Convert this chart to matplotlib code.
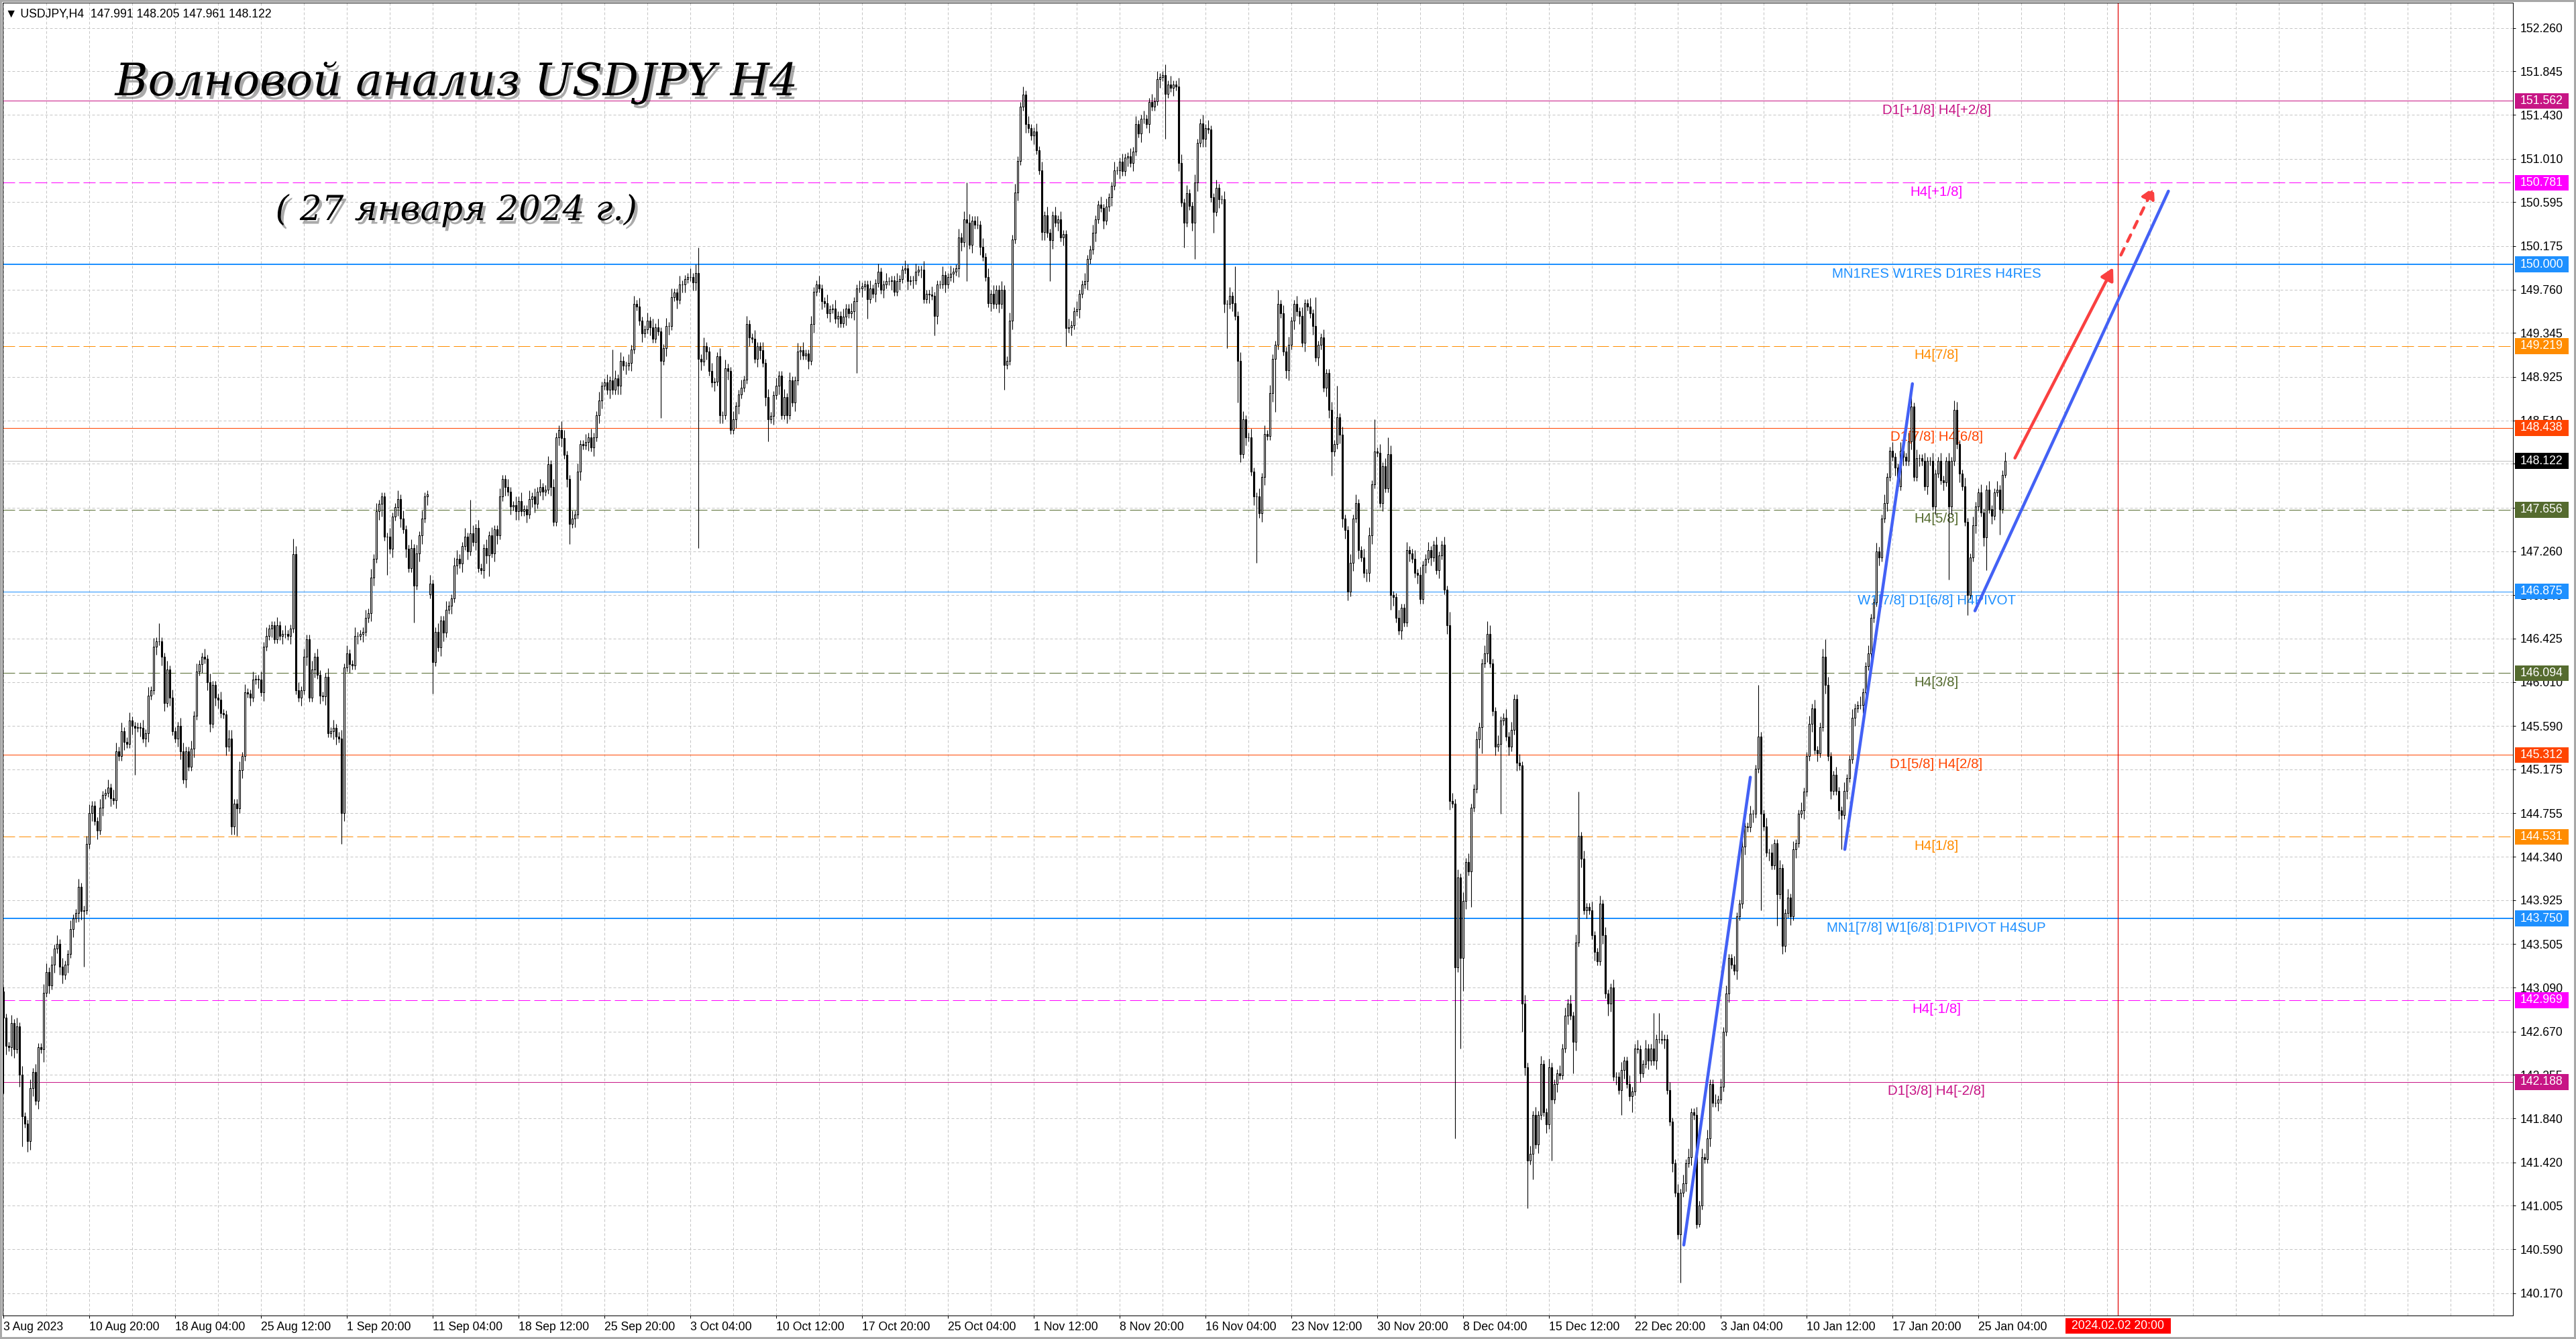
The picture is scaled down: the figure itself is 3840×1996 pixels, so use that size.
import numpy as np
import matplotlib
matplotlib.use("Agg")
import matplotlib.pyplot as plt
import matplotlib.patheffects as pe
import matplotlib.transforms as mtransforms
from matplotlib.patches import Rectangle
from matplotlib.ticker import MultipleLocator

plt.rcParams['font.family'] = ['Liberation Sans', 'DejaVu Sans']

# ---------------- data ----------------
# USDJPY H4 closes, one value per bar, 3 Aug 2023 .. 26 Jan 2024
closes_1 = [  # 3 Aug - 1 Sep
    142.80, 142.53, 142.52, 142.75, 142.50, 142.72, 142.26, 141.86, 141.79, 141.62,
    142.13, 142.28, 142.01, 142.52, 142.50, 143.04, 143.24, 143.11, 143.31, 143.46,
    143.51, 143.29, 143.21, 143.31, 143.41, 143.65, 143.75, 143.80, 144.05, 143.82,
    143.83, 144.46, 144.76, 144.83, 144.68, 144.59, 144.81, 144.93, 144.95, 145.00,
    144.90, 144.88, 145.35, 145.30, 145.54, 145.44, 145.42, 145.64, 145.59, 145.57,
    145.58, 145.57, 145.47, 145.52, 145.88, 145.93, 146.35, 146.40, 146.40, 146.25,
    145.81, 146.13, 145.86, 145.54, 145.47, 145.59, 145.35, 145.08, 145.35, 145.20,
    145.37, 145.69, 146.11, 146.18, 146.25, 146.23, 146.01, 145.61, 145.98, 145.86,
    145.84, 145.71, 145.70, 145.39, 145.47, 144.63, 144.85, 144.80, 145.17, 145.30,
    145.91, 145.90, 145.86, 146.03, 146.04, 146.03, 145.91, 146.35, 146.45, 146.52,
    146.55, 146.42, 146.55, 146.45, 146.47, 146.47, 146.45, 146.52, 147.23, 145.93,
    145.86, 145.93, 146.25, 146.42, 145.86, 146.13, 146.25, 146.08, 145.88, 145.87,
    146.06, 145.52, 145.54, 145.57, 145.49, 145.47, 144.76, 146.15, 146.28, 146.18,
    146.17, 146.45, 146.45, 146.47,
]
closes_2 = [  # 1 Sep - 5 Oct
    146.49, 146.62, 146.67, 147.01, 147.19, 147.64, 147.71, 147.78, 147.40, 147.40,
    147.28, 147.59, 147.68, 147.76, 147.57, 147.47, 147.28, 147.10, 147.29, 146.93,
    147.24, 147.41, 147.57, 147.78, 147.80, 146.95, 146.20, 146.49, 146.34, 146.60,
    146.48, 146.70, 146.74, 146.81, 147.12, 147.19, 147.14, 147.31, 147.40, 147.26,
    147.43, 147.35, 147.48, 147.10, 147.08, 147.29, 147.22, 147.41, 147.24, 147.47,
    147.41, 147.78, 147.95, 147.87, 147.83, 147.69, 147.70, 147.64, 147.74, 147.64,
    147.66, 147.61, 147.76, 147.78, 147.71, 147.83, 147.87, 147.83, 147.85, 148.09,
    147.87, 147.54, 148.35, 148.42, 148.34, 148.18, 147.95, 147.52, 147.57, 147.61,
    148.02, 148.28, 148.27, 148.30, 148.35, 148.25, 148.35, 148.56, 148.70, 148.84,
    148.87, 148.80, 148.89, 148.80, 148.91, 148.84, 149.08, 149.03, 149.03, 149.06,
    149.19, 149.62, 149.60, 149.46, 149.34, 149.38, 149.46, 149.40, 149.29, 149.40,
    149.36, 149.08, 149.20, 149.41, 149.41, 149.69, 149.73, 149.66, 149.81, 149.81,
    149.86, 149.88, 149.88, 149.83, 149.92, 149.10, 149.07, 149.22, 149.17, 148.98,
    148.87, 148.88, 149.12, 148.56, 148.56, 149.01, 148.98, 148.42, 148.52, 148.65,
]
closes_3 = [  # 5 Oct - 31 Oct
    148.76, 148.82, 148.90, 149.43, 149.30, 149.29, 149.10, 149.22, 149.18, 149.06,
    148.73, 148.52, 148.55, 148.75, 148.84, 148.94, 148.56, 148.73, 148.56, 148.89,
    148.68, 148.89, 149.17, 149.18, 149.13, 149.15, 149.08, 149.43, 149.74, 149.81,
    149.77, 149.65, 149.63, 149.53, 149.57, 149.58, 149.48, 149.51, 149.44, 149.50,
    149.58, 149.53, 149.55, 149.65, 149.77, 149.77, 149.79, 149.81, 149.67, 149.77,
    149.72, 149.82, 149.93, 149.76, 149.81, 149.84, 149.84, 149.85, 149.74, 149.84,
    149.86, 149.95, 149.96, 149.84, 149.85, 149.85, 149.93, 149.95, 149.95, 149.67,
    149.72, 149.71, 149.70, 149.51, 149.81, 149.81, 149.90, 149.81, 149.88, 149.91,
    149.93, 149.96, 150.26, 150.21, 150.43, 150.40, 150.19, 150.42, 150.38, 150.38,
    150.17, 150.07, 149.88, 149.63, 149.72, 149.62, 149.76, 149.62, 149.76, 149.04,
    149.08, 149.46, 150.24, 150.69, 150.99, 151.51, 151.62, 151.34, 151.30, 151.23,
    151.27, 151.09, 150.90, 150.31, 150.47, 150.30, 150.23, 150.47, 150.40, 150.43,
    150.26, 150.29, 149.39, 149.40, 149.42, 149.55, 149.57, 149.72, 149.81, 149.84,
]
closes_4 = [  # 1 Nov - 6 Dec
    150.05, 150.14, 150.30, 150.43, 150.57, 150.54, 150.42, 150.55, 150.64, 150.75,
    150.90, 150.90, 150.98, 150.89, 151.02, 151.03, 150.97, 151.08, 151.34, 151.25,
    151.39, 151.39, 151.34, 151.55, 151.51, 151.56, 151.77, 151.79, 151.81, 151.63,
    151.72, 151.69, 151.72, 151.70, 150.97, 150.59, 150.40, 150.68, 150.56, 150.40,
    150.78, 151.16, 151.35, 151.20, 151.30, 151.29, 150.64, 150.50, 150.73, 150.62,
    150.62, 149.62, 149.62, 149.70, 149.63, 149.51, 149.08, 148.19, 148.52, 148.35,
    148.35, 148.02, 147.78, 147.78, 147.62, 147.97, 148.38, 148.36, 148.77, 149.10,
    149.23, 149.62, 149.53, 149.17, 148.99, 149.23, 149.46, 149.62, 149.55, 149.51,
    149.25, 149.63, 149.60, 149.53, 149.41, 149.11, 149.23, 149.30, 148.82, 148.96,
    148.61, 148.21, 148.28, 148.54, 148.37, 147.57, 147.46, 146.87, 147.15, 147.57,
    147.72, 147.27, 147.20, 147.05, 147.05, 147.41, 147.90, 148.21, 148.20, 147.72,
    148.07, 147.86, 148.19, 146.84, 146.82, 146.62, 146.50, 146.72, 146.58, 147.27,
    147.24, 147.19, 147.05, 147.03, 146.80, 147.13, 147.19, 147.27, 147.20, 147.32,
    147.08, 147.22, 147.32, 146.89, 146.55,
]
closes_5 = [  # 7 Dec - 9 Jan
    144.87, 144.85, 143.28, 144.14, 143.37, 143.92, 144.29, 144.20, 144.81, 144.99,
    145.46, 145.58, 146.19, 146.28, 146.47, 146.19, 145.73, 145.39, 145.42, 145.64,
    145.67, 145.49, 145.39, 145.55, 145.85, 145.24, 145.21, 142.94, 142.33, 141.44,
    141.50, 141.87, 141.59, 141.87, 142.36, 141.90, 141.78, 142.33, 142.02, 142.17,
    142.27, 142.25, 142.51, 142.82, 142.94, 142.82, 142.57, 143.52, 144.54, 144.32,
    143.83, 143.86, 143.83, 143.59, 143.43, 143.34, 143.89, 143.59, 143.03, 142.94,
    143.09, 142.24, 142.24, 142.11, 142.30, 142.39, 142.17, 142.05, 142.10, 142.51,
    142.50, 142.27, 142.36, 142.51, 142.39, 142.51, 142.39, 142.60, 142.60, 142.59,
    142.60, 142.11, 141.81, 141.41, 141.13, 140.73, 141.13, 141.22, 141.41, 141.47,
    141.90, 141.87, 140.83, 141.01, 141.47, 141.45, 141.65, 142.17, 141.99, 141.99,
    142.02, 142.14, 142.67, 143.03, 143.37, 143.31, 143.25, 143.77, 143.89, 144.44,
    144.63, 144.62, 144.75, 144.75, 145.18, 145.49, 144.75, 144.63, 144.38, 144.38,
    144.26, 144.47, 143.98, 144.23, 143.49, 143.80, 143.95, 143.77, 144.41, 144.47,
    144.75, 144.78, 144.96, 145.30, 145.61, 145.76, 145.36, 145.33, 145.58, 146.25,
]
closes_6 = [  # 9 Jan - 26 Jan
    145.98, 145.30, 144.97, 145.12, 144.97, 144.78, 144.74, 144.97, 145.09, 145.27,
    145.67, 145.76, 145.79, 145.79, 145.91, 146.16, 146.28, 146.62, 146.77, 147.26,
    147.20, 147.57, 147.72, 147.97, 148.22, 148.16, 148.06, 147.88, 148.22, 148.16,
    148.12, 148.31, 148.64, 147.97, 148.15, 148.15, 148.12, 147.88, 148.12, 148.12,
    147.69, 148.00, 148.12, 147.94, 147.92, 148.12, 147.69, 148.12, 148.61, 148.28,
    148.00, 147.88, 147.54, 146.84, 147.20, 147.51, 147.69, 147.82, 147.63, 147.39,
    147.85, 147.66, 147.60, 147.82, 147.85, 147.66, 147.99, 148.122,
]

# wicks per bar: two digits "up down", in steps of WICK_UNIT
WICK_UNIT = 0.04
wicks_1 = """
21 12 11 22 12 21 13 21 11 12  22 12 21 12 11 23 21 12 21 12
21 12 22 11 12 21 12 11 22 12  12 21 21 12 11 12 21 12 11 21
12 21 22 11 21 12 11 21 12 11  11 12 21 12 22 11 21 12 31 12
12 21 12 21 11 12 22 21 12 11  21 12 21 11 12 21 12 22 11 12
12 21 11 12 21 22 12 11 21 12  21 11 12 21 11 12 21 12 21 11
12 11 21 11 12 21 11 12 11 21  21 12 21 12 11 21 12 21 12 11
12 21 11 22 12 11 22 12 21 12  11 21 12 11
"""
wicks_2 = """
12 21 11 22 12 21 12 13 11 12  21 12 11 22 12 21 12 11 21 12
21 12 22 11 12 21 12 11 21 12  12 21 11 12 21 22 11 12 21 12
11 21 12 21 11 12 22 11 21 12  12 21 11 12 21 12 11 22 12 21
11 12 21 12 22 11 21 12 11 21  12 21 11 12 22 21 12 11 21 12
21 12 11 21 12 21 12 11 22 12  11 21 12 11 21 12 22 11 12 21
12 21 11 21 12 11 21 12 21 11  21 12 11 22 12 21 11 12 21 12
12 11 21 12 22 11 12 21 12 11  21 12 11 22 12 21 12 11 21 12
"""
wicks_3 = """
12 21 11 21 12 11 21 12 12 21  12 21 11 12 21 12 11 21 12 21
11 12 21 12 21 11 12 21 12 11  21 12 11 21 12 11 21 12 11 21
12 11 21 12 11 21 12 11 12 21  11 12 21 11 12 21 11 12 11 21
12 11 21 12 11 12 21 11 12 21  11 12 21 11 12 11 21 12 11 21
12 11 22 12 21 11 21 12 11 21  12 21 11 21 12 21 11 12 21 12
11 21 12 21 12 11 21 12 21 11  12 21 11 22 12 21 11 12 21 12
21 12 11 21 12 11 21 12 11 21
"""
wicks_4 = """
12 11 21 12 11 21 12 21 11 12  21 11 12 21 11 12 21 12 21 11
12 21 11 12 21 11 21 12 11 21  11 21 12 11 22 21 12 21 11 12
21 12 11 22 12 21 11 12 21 12  11 22 12 21 12 21 12 22 21 12
11 21 12 11 21 12 22 11 21 12  12 21 11 21 12 22 11 12 21 12
21 12 11 21 12 21 12 11 21 12  12 21 11 21 12 22 12 11 21 12
21 12 11 21 12 22 12 11 11 21  12 21 11 21 12 11 21 12 11 21
12 11 21 12 21 11 12 21 12 11  21 12 11 21 12
"""
wicks_5 = """
12 21 12 21 12 21 12 21 12 11  21 12 12 21 12 21 11 12 21 12
11 21 12 21 11 12 21 12 22 12  21 12 21 12 21 11 12 21 12 11
12 21 11 21 12 21 12 22 11 12  21 12 11 21 12 11 21 12 21 11
12 21 12 11 21 12 11 21 12 11  21 12 11 21 12 11 21 12 11 21
12 11 21 12 11 21 12 21 12 21  12 11 21 12 21 11 21 12 11 21
12 21 11 21 12 11 21 12 11 21  12 11 21 12 11 21 12 11 21 12
21 11 12 21 12 11 21 12 21 12  11 21 12 11 21 12 21 12 11 21
"""
wicks_6 = """
12 21 12 11 21 12 11 21 12 11  21 12 11 21 12 11 21 12 11 21
12 11 21 12 11 21 12 11 21 12  11 21 12 11 21 12 11 21 12 11
21 12 11 21 12 11 21 12 11 21  12 11 21 12 11 21 12 11 21 12
11 21 12 11 21 12 11 21
"""

first_open = 143.05
open_fix = {159: 146.85, 746: 147.991}          # weekend gap, last bar header
high_fix = {0: 143.10, 58: 146.57, 108: 147.38, 174: 147.75, 227: 149.19,
            259: 150.16, 359: 150.78, 380: 151.70, 433: 151.91, 459: 149.98,
            475: 149.76, 489: 149.69, 497: 148.84, 511: 148.52, 516: 148.35,
            539: 146.68, 553: 146.59, 587: 144.96, 615: 142.85, 617: 142.85,
            654: 145.98, 679: 146.42, 711: 148.80, 727: 148.70, 746: 148.205}
low_fix = {0: 142.08, 7: 141.57, 9: 141.52, 30: 143.29, 49: 145.12, 87: 144.54,
           126: 144.46, 143: 147.03, 153: 146.58, 160: 145.90, 181: 147.02,
           211: 147.33, 245: 148.53, 259: 147.29, 285: 148.31, 318: 148.96,
           322: 149.48, 347: 149.32, 359: 149.84, 373: 148.80, 390: 149.84,
           396: 149.22, 433: 151.20, 440: 150.16, 444: 150.05, 451: 150.30,
           456: 149.20, 460: 148.68, 467: 147.15, 474: 148.59, 479: 148.89,
           495: 147.98, 501: 146.79, 517: 146.70, 541: 141.65, 543: 142.51,
           544: 143.06, 547: 143.86, 551: 145.33, 558: 144.75, 566: 142.67,
           568: 140.98, 570: 141.26, 577: 141.44, 585: 142.27, 598: 142.82,
           603: 141.87, 607: 141.90, 625: 140.27, 632: 140.80, 655: 143.83,
           661: 143.68, 664: 143.43, 685: 144.41, 725: 146.99, 732: 146.65,
           739: 147.08, 744: 147.42, 746: 147.961}

# Murrey levels
level_prices = [151.562, 150.781, 150.000, 149.219, 148.438, 147.656, 146.875,
                146.094, 145.312, 144.531, 143.750, 142.969, 142.188]
level_names = ["D1[+1/8] H4[+2/8]", "H4[+1/8]", "MN1RES W1RES D1RES H4RES",
               "H4[7/8]", "D1[7/8] H4[6/8]", "H4[5/8]", "W1[7/8] D1[6/8] H4PIVOT",
               "H4[3/8]", "D1[5/8] H4[2/8]", "H4[1/8]",
               "MN1[7/8] W1[6/8] D1PIVOT H4SUP", "H4[-1/8]", "D1[3/8] H4[-2/8]"]

price_ticks = [152.260, 151.845, 151.430, 151.010, 150.595, 150.175, 149.760,
               149.345, 148.925, 148.510, 148.095, 147.675, 147.260, 146.840,
               146.425, 146.010, 145.590, 145.175, 144.755, 144.340, 143.925,
               143.505, 143.090, 142.670, 142.255, 141.840, 141.420, 141.005,
               140.590, 140.170]
date_labels = ["3 Aug 2023", "10 Aug 20:00", "18 Aug 04:00", "25 Aug 12:00",
               "1 Sep 20:00", "11 Sep 04:00", "18 Sep 12:00", "25 Sep 20:00",
               "3 Oct 04:00", "10 Oct 12:00", "17 Oct 20:00", "25 Oct 04:00",
               "1 Nov 12:00", "8 Nov 20:00", "16 Nov 04:00", "23 Nov 12:00",
               "30 Nov 20:00", "8 Dec 04:00", "15 Dec 12:00", "22 Dec 20:00",
               "3 Jan 04:00", "10 Jan 12:00", "17 Jan 20:00", "25 Jan 04:00"]
future_bar = 788.1
future_label = "2024.02.02 20:00"

# hand-drawn wave lines and forecast arrows (bar index, price)
wave_lines = [((626.3, 140.63), (651.1, 145.10)),
              ((686.3, 144.41), (711.5, 148.86)),
              ((734.8, 146.69), (806.9, 150.70))]
arrow_solid = ((749.7, 148.15), (786.3, 149.97))
arrow_dashed = ((789.2, 150.09), (801.5, 150.74))

header = "\u25bc USDJPY,H4  147.991 148.205 147.961 148.122"
title = "Волновой анализ USDJPY H4"
subtitle = "( 27 января 2024 г.)"

# ---------------- styles ----------------
level_colors = ['#C71585', '#FF00FF', '#1E90FF', '#FF8C00', '#FF4500', '#556B2F',
                '#1E90FF', '#556B2F', '#FF4500', '#FF8C00', '#1E90FF', '#FF00FF',
                '#C71585']
level_dashed = [False, True, False, True, False, True, False, True, False, True,
                False, True, False]
level_px = [1, 1, 2, 1, 1, 1, 1, 1, 1, 1, 2, 1, 1]

# ---------------- build OHLC ----------------
close, up, dn = [], [], []
for c, w in [(closes_1, wicks_1), (closes_2, wicks_2), (closes_3, wicks_3),
             (closes_4, wicks_4), (closes_5, wicks_5), (closes_6, wicks_6)]:
    toks = w.split()
    assert len(toks) == len(c), (len(toks), len(c))
    close += c
    up += [int(t[0]) for t in toks]
    dn += [int(t[1]) for t in toks]

close = np.array(close)
n = len(close)
opn = np.empty(n)
opn[0] = first_open
opn[1:] = close[:-1]
for i, v in open_fix.items():
    opn[i] = v
high = np.maximum(opn, close) + np.array(up) * WICK_UNIT
low = np.minimum(opn, close) - np.array(dn) * WICK_UNIT
for i, v in high_fix.items():
    high[i] = v
for i, v in low_fix.items():
    low[i] = v
last = close[-1]

# ---------------- figure ----------------
W, H = 3840, 1996
PX = 0.72                        # one pixel in points at dpi 100
L, R, T, B = 4, 3746, 4, 1961    # plot frame in pixels
fig = plt.figure(figsize=(W / 100, H / 100), dpi=100, facecolor='white')
fig.patch.set_edgecolor('#a8a8a8')
fig.patch.set_linewidth(3)
ax = fig.add_axes([L / W, 1 - B / H, (R - L) / W, (B - T) / H])
ax.set_facecolor('white')

# pixel mapping of the source chart: x = 4.8 + 4*bar, y = 41.6 + 156*(152.26 - p)
ax.set_xlim((L - 4.8) / 4, (R - 4.8) / 4)
ax.set_ylim(152.26 - (B - 41.6) / 156, 152.26 - (T - 41.6) / 156)

for s in ax.spines.values():
    s.set_color('black')
    s.set_linewidth(PX)

ax.yaxis.tick_right()
ax.set_yticks(price_ticks)
ax.set_yticklabels([f"{v:.3f}" for v in price_ticks])
ax.tick_params(axis='y', direction='out', length=4 * PX, width=PX,
               pad=7 * PX, labelsize=12.7)

ax.set_xticks([32 * k for k in range(len(date_labels))])
ax.set_xticklabels(date_labels, ha='left')
ax.tick_params(axis='x', direction='out', length=4 * PX, width=PX,
               pad=5 * PX, labelsize=12.7)
ax.xaxis.set_minor_locator(MultipleLocator(16))
ax.tick_params(axis='x', which='minor', length=0)

grid_kw = dict(color='#c4c4c4', lw=PX, linestyle=(0, (4, 3)))
ax.grid(True, which='both', axis='x', **grid_kw)
ax.grid(True, which='major', axis='y', **grid_kw)
ax.set_axisbelow(True)

# levels
for p, col, dashed, w in zip(level_prices, level_colors, level_dashed, level_px):
    ax.axhline(p, color=col, lw=w * PX,
               linestyle=(0, (18, 6)) if dashed else '-', zorder=1.5)
for p, name, col in zip(level_prices, level_names, level_colors):
    ax.text(720.45, p - 19.5 / 156, name, color=col, fontsize=14.8,
            ha='center', va='baseline', zorder=2)

ax.axhline(last, color='#c0c0c0', lw=PX, zorder=1.4)
ax.axvline(future_bar, color='#e00000', lw=1.2 * PX, zorder=1.6)

# candles
x = np.arange(n)
ax.vlines(x, low, high, color='black', lw=1.1 * PX, zorder=3)
bull = close >= opn
ax.bar(x, np.abs(close - opn), bottom=np.minimum(opn, close), width=0.62,
       color=['white' if b else 'black' for b in bull], edgecolor='black',
       linewidth=1.1 * PX, zorder=4)

# wave lines and arrows
for (x0, y0), (x1, y1) in wave_lines:
    ax.plot([x0, x1], [y0, y1], color='#4361f5', lw=4.5 * PX,
            solid_capstyle='round', zorder=6)
arrow_kw = dict(arrowstyle='-|>,head_length=0.55,head_width=0.3',
                mutation_scale=20, color='#fa4040', lw=4.5 * PX,
                shrinkA=0, shrinkB=0, capstyle='round')
ax.annotate('', xy=arrow_solid[1], xytext=arrow_solid[0],
            arrowprops=arrow_kw, zorder=7)
ax.annotate('', xy=arrow_dashed[1], xytext=arrow_dashed[0],
            arrowprops=dict(arrow_kw, linestyle=(0, (2.4, 2.6))), zorder=7)

# price boxes on the right scale (they sit over the scale, as in the terminal)
ty = mtransforms.blended_transform_factory(ax.transAxes, ax.transData)
box_x0 = (3748.7 - L) / (R - L)
box_w = 80.3 / (R - L)
box_h = 23.6 / 156
for p, col in list(zip(level_prices, level_colors)) + [(last, 'black')]:
    ax.add_patch(Rectangle((box_x0, p - box_h / 2), box_w, box_h, transform=ty,
                           facecolor=col, edgecolor='none', clip_on=False,
                           zorder=10))
    ax.text((3757 - L) / (R - L), p, f"{p:.3f}", transform=ty, color='white',
            fontsize=12.7, ha='left', va='center', clip_on=False, zorder=11)

# highlighted future date under the time scale
tx = mtransforms.blended_transform_factory(ax.transData, ax.transAxes)
ax.add_patch(Rectangle((future_bar - 157 / 8, -(1988 - B) / (B - T)), 157 / 4,
                       23 / (B - T), transform=tx, facecolor='#ff0000',
                       edgecolor='none', clip_on=False, zorder=10))
ax.text(future_bar, -(1976.5 - B) / (B - T), future_label, transform=tx,
        color='white', fontsize=12.7, ha='center', va='center',
        clip_on=False, zorder=11)

# header and hand-written caption
ax.text((8 - L) / (R - L), (B - 12) / (B - T), header, transform=ax.transAxes,
        fontsize=12.7, ha='left', va='top', zorder=8)
shadow = [pe.SimplePatchShadow(offset=(3, -4), shadow_rgbFace='#444444',
                               alpha=0.45), pe.Normal()]
ax.text((680 - L) / (R - L), (B - 142) / (B - T), title, transform=ax.transAxes,
        family='DejaVu Serif', style='italic', fontsize=48, ha='center',
        va='baseline', path_effects=shadow, zorder=9)
ax.text((680 - L) / (R - L), (B - 328) / (B - T), subtitle, transform=ax.transAxes,
        family='DejaVu Serif', style='italic', fontsize=37, ha='center',
        va='baseline', path_effects=shadow, zorder=9)

fig.savefig("out.png", dpi=100)
